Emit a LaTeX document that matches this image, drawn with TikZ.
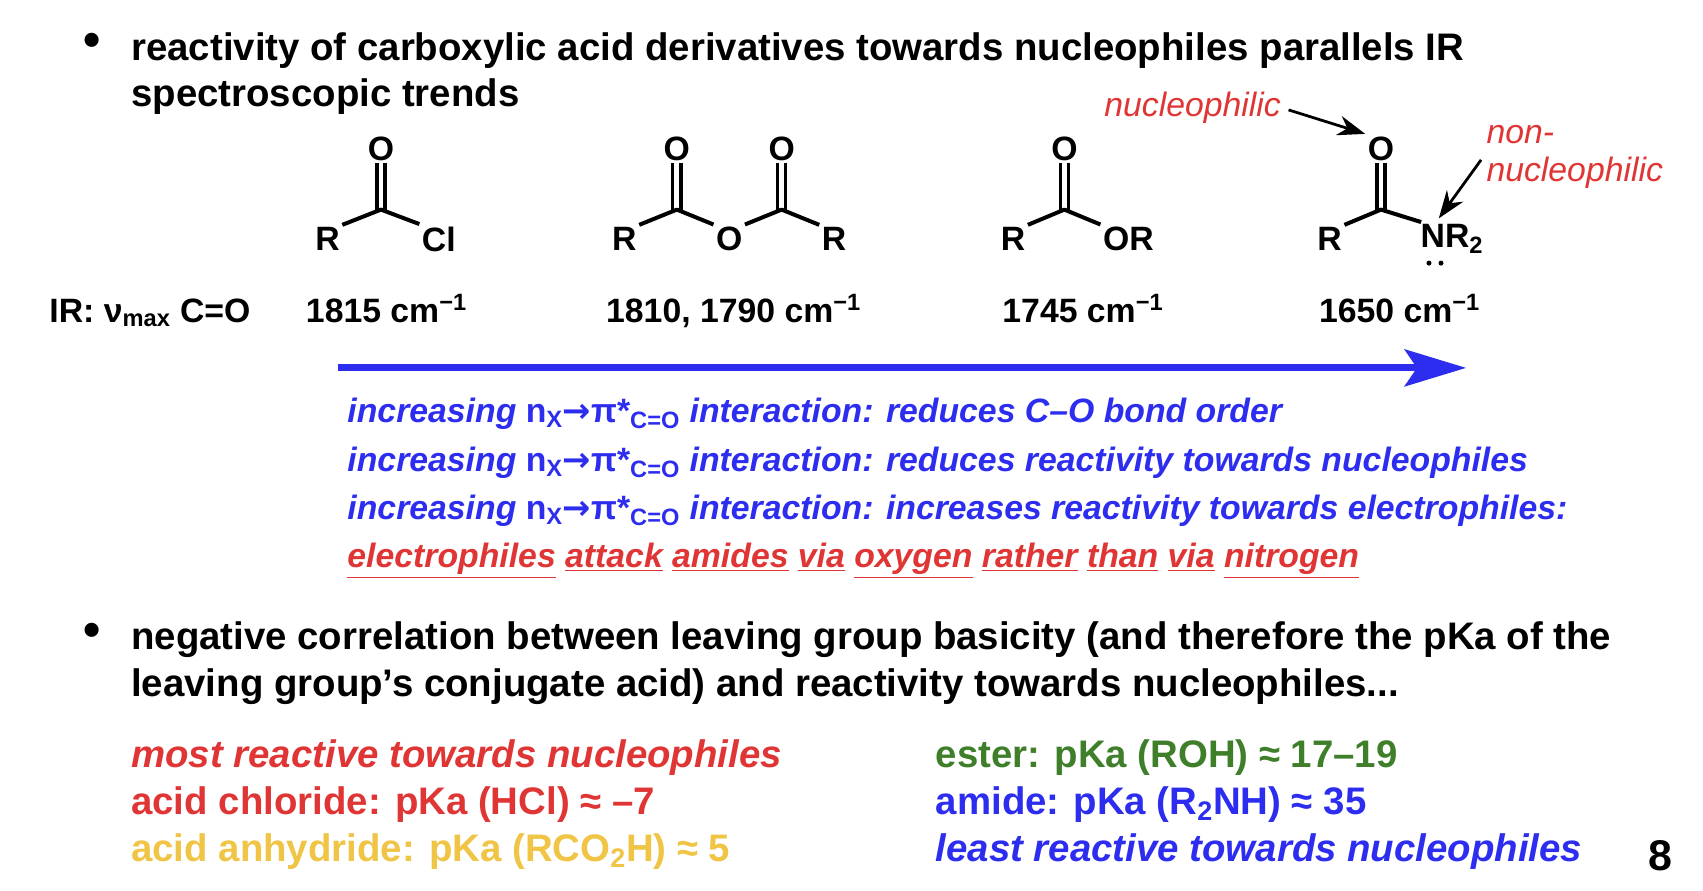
\documentclass[tikz,border=0pt]{standalone}
\usepackage{fontspec}
\setmainfont{Liberation Sans}
\newfontfamily\dvs{DejaVu Sans}
\usetikzlibrary{arrows.meta}
\definecolor{myred}{HTML}{E03535}
\definecolor{myblue}{HTML}{2D2DF0}
\definecolor{mygreen}{HTML}{3F7F2A}
\definecolor{myyellow}{HTML}{F0C445}
\newcommand\ulw[1]{\underline{#1}}
\newcommand\nxpi{\textup{n\textsubscript{X}{\dvs\bfseries →}π*\textsubscript{C=O}}}
\begin{document}
\begin{tikzpicture}[x=0.025cm,y=-0.025cm,
  txt/.style={anchor=base west,inner sep=0,font=\fontsize{25}{29}\selectfont\bfseries},
  bl/.style={anchor=base west,inner sep=0,font=\fontsize{22}{26}\selectfont\bfseries\itshape,text=myblue},
  atom/.style={inner sep=1.5pt,font=\fontsize{22}{26}\selectfont\bfseries},
  ir/.style={anchor=base west,inner sep=0,font=\fontsize{22}{26}\selectfont\bfseries},
  bond/.style={line width=2.6pt},
  dbl/.style={line width=2.2pt,double distance=3.2pt},
  lab/.style={inner sep=1pt,font=\fontsize{22}{26}\selectfont\itshape,text=myred},
  larr/.style={line width=1.8pt,shorten <=4pt,-{Stealth[length=18pt,width=13pt]}}]
\useasboundingbox (0,0) rectangle (1560,816);
\fill[white] (0,0) rectangle (1560,816);
% bullets
\node[txt,font=\fontsize{32}{36}\selectfont\bfseries] (b1) at (76,52) {•};
\node[txt] (t1) at (120,55) {reactivity of carboxylic acid derivatives towards nucleophiles parallels IR};
\node[txt] (t2) at (120,98) {spectroscopic trends};
% acid chloride
\node[atom] (o1) at (349,136) {O};
\coordinate (c1) at (349,192);
\node[atom] (r1) at (300,219) {R};
\node[atom] (cl) at (402,219) {Cl};
\draw[dbl] (o1) -- (c1);
\draw[bond,line join=round] (r1.north east) -- (c1) -- (cl.north west);
% anhydride
\node[atom] (o2) at (620,136) {O};
\node[atom] (o3) at (716,136) {O};
\coordinate (c2) at (620,192);
\coordinate (c3) at (716,192);
\node[atom] (r2) at (572,219) {R};
\node[atom] (ob) at (668,219) {O};
\node[atom] (r3) at (764,219) {R};
\draw[dbl] (o2) -- (c2);
\draw[dbl] (o3) -- (c3);
\draw[bond,line join=round] (r2.north east) -- (c2) -- (ob.north west);
\draw[bond,line join=round] (ob.north east) -- (c3) -- (r3.north west);
% ester
\node[atom] (o4) at (975,136) {O};
\coordinate (c4) at (975,192);
\node[atom] (r4) at (928,219) {R};
\node[atom,anchor=west] (or) at (1008,219) {OR};
\draw[dbl] (o4) -- (c4);
\draw[bond,line join=round] (r4.north east) -- (c4) -- (or.north west);
% amide
\node[atom] (o5) at (1265,136) {O};
\coordinate (c5) at (1265,192);
\node[atom] (r5) at (1218,219) {R};
\node[atom,anchor=west] (nr) at (1299,219) {NR\textsubscript{2}};
\draw[dbl] (o5) -- (c5);
\draw[bond,line join=round] (r5.north east) -- (c5) -- ([xshift=2pt]nr.north west);
\fill (1309,241) circle (2.3) (1320,241) circle (2.3);
% labels
\node[lab,anchor=east] (nu) at (1175,99) {nucleophilic};
\draw[larr] (nu.east) -- (o5.north west);
\node[lab,anchor=west] (non) at (1360,123) {non-};
\node[lab,anchor=west] (nonn) at (1360,158) {nucleophilic};
\coordinate (nt) at (1318,200);
\draw[larr] (nonn.north west) -- (nt);
% IR row
\node[ir] (irl) at (45,295) {IR: ν\textsubscript{max} C=O};
\node[ir] (f1) at (280,295) {1815 cm\textsuperscript{−1}};
\node[ir] (f2) at (555,295) {1810, 1790 cm\textsuperscript{−1}};
\node[ir] (f3) at (918,295) {1745 cm\textsuperscript{−1}};
\node[ir] (f4) at (1208,295) {1650 cm\textsuperscript{−1}};
% blue arrow
\coordinate (a1) at (310,337);
\coordinate (a2) at (1343,337);
\draw[myblue,line width=4.5pt,-{Stealth[length=40pt,width=24pt,inset=8pt]}] (a1) -- (a2);
% blue lines
\node[bl] (l1) at (318,387) {increasing \nxpi\ interaction: reduces C–O bond order};
\node[bl] (l2) at (318,432) {increasing \nxpi\ interaction: reduces reactivity towards nucleophiles};
\node[bl] (l3) at (318,476) {increasing \nxpi\ interaction: increases reactivity towards electrophiles:};
\node[bl,text=myred] (l4) at (318,520) {\ulw{electrophiles} \ulw{attack} \ulw{amides} \ulw{via} \ulw{oxygen} \ulw{rather} \ulw{than} \ulw{via} \ulw{nitrogen}};
% bullet 2
\node[txt,font=\fontsize{32}{36}\selectfont\bfseries] (b2) at (76,592) {•};
\node[txt] (t3) at (120,595) {negative correlation between leaving group basicity (and therefore the pKa of the};
\node[txt] (t4) at (120,638) {leaving group’s conjugate acid) and reactivity towards nucleophiles...};
% bottom
\node[txt,text=myred,font=\fontsize{25}{29}\selectfont\bfseries\itshape] (m1) at (120,703) {most reactive towards nucleophiles};
\node[txt,text=myred] (m2) at (120,746) {acid chloride: pKa (HCl) ≈ –7};
\node[txt,text=myyellow] (m3) at (120,789) {acid anhydride: pKa (RCO\textsubscript{2}H) ≈ 5};
\node[txt,text=mygreen] (n1) at (857,703) {ester: pKa (ROH) ≈ 17–19};
\node[txt,text=myblue] (n2) at (857,746) {amide: pKa (R\textsubscript{2}NH) ≈ 35};
\node[txt,text=myblue,font=\fontsize{25}{29}\selectfont\bfseries\itshape] (n3) at (857,789) {least reactive towards nucleophiles};
\node[txt,font=\fontsize{28}{32}\selectfont\bfseries] (pg) at (1510,797) {8};
\end{tikzpicture}
\end{document}
